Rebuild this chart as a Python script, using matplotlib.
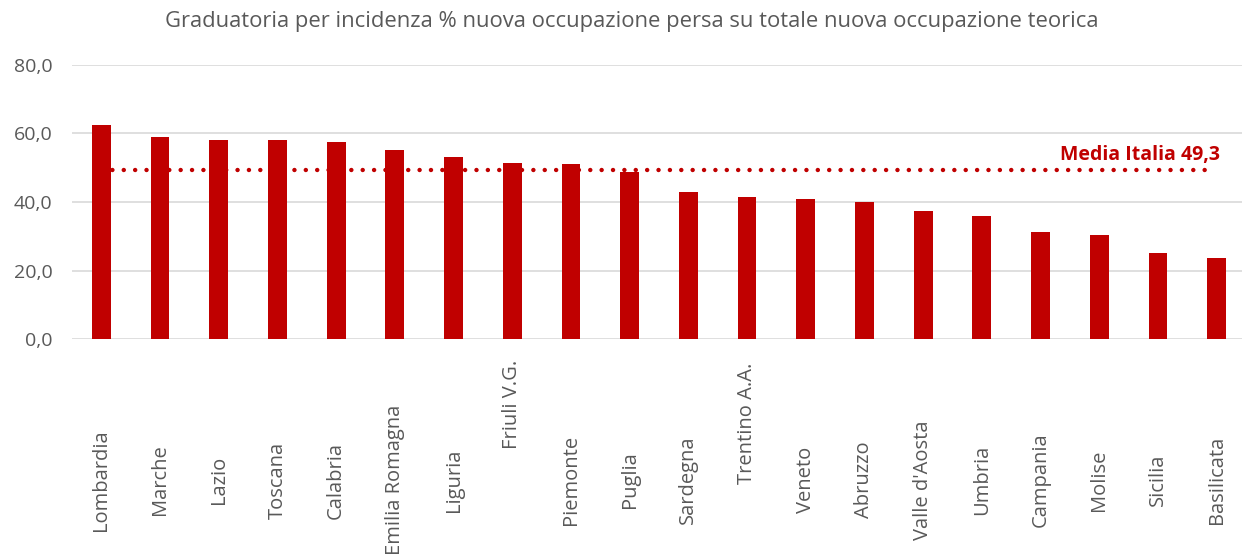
import matplotlib
matplotlib.use("Agg")
import matplotlib.pyplot as plt

regions = ["Lombardia", "Marche", "Lazio", "Toscana", "Calabria", "Emilia Romagna",
           "Liguria", "Friuli V.G.", "Piemonte", "Puglia", "Sardegna", "Trentino A.A.",
           "Veneto", "Abruzzo", "Valle d'Aosta", "Umbria", "Campania", "Molise",
           "Sicilia", "Basilicata"]
values = [62.5, 58.9, 58.0, 58.0, 57.6, 55.1, 53.0, 51.4, 51.1, 48.8,
          43.0, 41.4, 41.0, 39.9, 37.5, 36.0, 31.1, 30.5, 25.0, 23.7]
media_italia = 49.3
yticks = [0, 20, 40, 60, 80]
title = "Graduatoria per incidenza % nuova occupazione persa su totale nuova occupazione teorica"

RED = "#C00000"
GREY = "#595959"

fig = plt.figure(figsize=(12.42, 5.57), dpi=100)
ax = fig.add_axes([72/1242, 218/557, 1174/1242, 274/557])

x = list(range(len(regions)))
ax.bar(x, values, width=0.32, color=RED, zorder=3)
ax.plot([0, len(regions) - 1.1], [media_italia, media_italia], color=RED,
        linestyle=(0, (0.01, 2.55)), linewidth=3.2, dash_capstyle="round", zorder=2)
ax.text(len(regions) - 1 + 0.05, media_italia + 4.5, "Media Italia " + f"{media_italia:.1f}".replace(".", ","),
        color=RED, fontsize=14, fontweight="bold", family="Open Sans", ha="right", va="center")

ax.set_xlim(-0.5, len(regions) - 0.5)
ax.set_ylim(0, 80)
ax.set_yticks(yticks)
ax.set_yticklabels([f"{v:.1f}".replace(".", ",") for v in yticks], fontsize=14,
                   color=GREY, family="Open Sans")
ax.tick_params(axis="y", length=0, pad=14)
ax.yaxis.grid(True, color="#D9D9D9", linewidth=1.2, zorder=0)
ax.set_axisbelow(True)
for s in ax.spines.values():
    s.set_visible(False)
ax.set_xticks([])

offsets = {"Friuli V.G.": -0.237, "Trentino A.A.": -0.307}
for i, r in enumerate(regions):
    ax.text(i, offsets.get(r, -0.515), r, rotation=90, ha="center", va="center",
            transform=ax.get_xaxis_transform(), fontsize=14.5, color=GREY,
            family="Open Sans")

fig.text(632/1242, 1 - 21/557, title, ha="center", va="center", fontsize=15.8,
         color=GREY, family="Open Sans")

fig.savefig("out.png", dpi=100, facecolor="white")
